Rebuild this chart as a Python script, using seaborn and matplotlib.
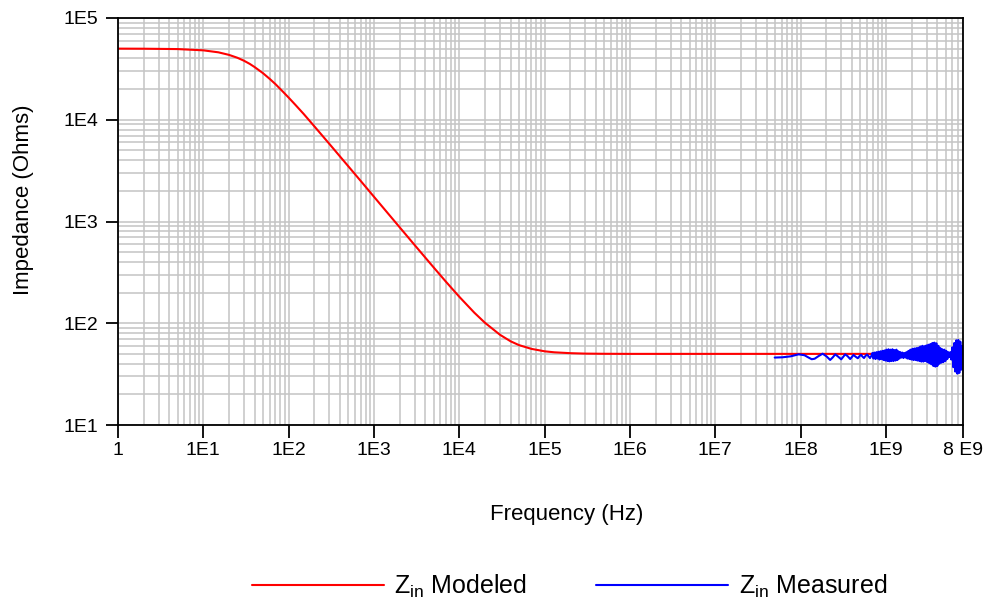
"""
Input impedance vs frequency: modeled curve against measured sweep.
"""

import matplotlib
matplotlib.use("Agg")
import matplotlib.pyplot as plt
from matplotlib.ticker import LogLocator, FixedLocator, FixedFormatter, NullFormatter
import seaborn as sns
import numpy as np
import pandas as pd

# modeled input impedance
model_freq = [1, 2, 5, 10, 15, 20, 25, 30, 35, 40, 50, 60, 70, 85, 100, 120, 150, 200,
              300, 500, 700, 1e3, 2e3, 3e3, 5e3, 7e3, 1e4, 1.5e4, 2e4, 3e4, 4e4, 5e4,
              7e4, 1e5, 1.3e5, 2e5, 3e5, 5e5, 1e6, 1e7, 1e8, 1e9, 8e9]
model_z = [50000, 49900, 49500, 48100, 46000, 43400, 40700, 38000, 35400, 32900,
           28700, 25200, 22400, 19000, 16500, 14000, 11400, 8620, 5790, 3490, 2500,
           1750, 877, 586, 354, 255, 182, 127, 101, 77, 66.4, 61, 56, 53, 51.8,
           50.8, 50.3, 50.1, 50, 50, 50, 50, 50]

# measured input impedance
meas_freq = [4.97e7, 6.15e7, 7.64e7, 9.48e7, 1.11e8, 1.24e8, 1.35e8, 1.46e8, 1.62e8, 1.81e8,
             2.01e8, 2.22e8, 2.37e8, 2.55e8, 2.75e8, 2.99e8, 3.14e8, 3.33e8, 3.55e8, 3.81e8,
             3.98e8, 4.17e8, 4.40e8, 4.68e8, 4.90e8, 5.10e8, 5.31e8, 5.53e8, 5.76e8, 6.00e8,
             6.24e8, 6.50e8, 6.77e8, 6.95e8, 7.14e8, 7.34e8, 7.54e8, 7.74e8, 7.96e8, 8.17e8,
             8.40e8, 8.63e8, 8.86e8, 9.10e8, 9.35e8, 9.60e8, 9.87e8, 1.013e9, 1.041e9, 1.070e9,
             1.099e9, 1.129e9, 1.160e9, 1.191e9, 1.224e9, 1.257e9, 1.292e9, 1.327e9, 1.363e9, 1.400e9,
             1.439e9, 1.478e9, 1.518e9, 1.560e9, 1.602e9, 1.646e9, 1.691e9, 1.737e9, 1.784e9, 1.833e9,
             1.883e9, 1.934e9, 1.987e9, 2.041e9, 2.097e9, 2.154e9, 2.213e9, 2.273e9, 2.335e9, 2.399e9,
             2.465e9, 2.532e9, 2.601e9, 2.672e9, 2.745e9, 2.820e9, 2.897e9, 2.976e9, 3.057e9, 3.141e9,
             3.227e9, 3.315e9, 3.405e9, 3.498e9, 3.594e9, 3.692e9, 3.793e9, 3.896e9, 4.003e9, 4.112e9,
             4.224e9, 4.340e9, 4.458e9, 4.580e9, 4.705e9, 4.833e9, 4.965e9, 5.101e9, 5.240e9, 5.383e9,
             5.530e9, 5.681e9, 5.836e9, 5.995e9, 6.159e9, 6.327e9, 6.500e9, 6.677e9, 6.860e9, 7.047e9,
             7.239e9, 7.437e9, 7.640e9, 7.850e9]
meas_z = [46.0, 46.3, 47.3, 49.5, 48.5, 46.0, 44.3, 44.8, 47.5, 50.2,
          47.3, 43.6, 46.0, 49.5, 47.0, 44.2, 46.5, 49.5, 47.5, 44.5,
          46.5, 48.8, 47.0, 45.3, 47.5, 49.0, 47.0, 45.5, 47.8, 49.3,
          47.5, 45.5, 48.0, 51.0, 45.0, 51.5, 44.5, 52.0, 45.0, 52.5,
          44.0, 53.0, 44.5, 53.5, 43.5, 54.0, 43.0, 55.0, 42.5, 55.5,
          42.2, 55.0, 42.5, 55.5, 42.5, 54.5, 43.0, 55.0, 43.5, 53.0,
          45.0, 52.0, 46.0, 51.5, 45.5, 51.0, 46.0, 52.0, 45.0, 53.5,
          44.5, 55.0, 44.0, 56.0, 43.5, 56.5, 43.5, 57.0, 43.0, 57.5,
          42.5, 59.0, 42.0, 60.0, 42.0, 59.5, 42.5, 60.5, 41.5, 61.5,
          40.5, 62.5, 39.5, 64.0, 38.0, 64.5, 37.5, 63.5, 38.0, 60.0,
          40.0, 57.0, 41.0, 55.5, 41.5, 55.0, 42.5, 53.5, 44.5, 52.0,
          46.5, 52.0, 44.0, 58.0, 37.0, 64.0, 33.5, 68.0, 32.0, 68.5,
          32.5, 66.0, 35.0, 60.0]

x_ticks = [1, 1e1, 1e2, 1e3, 1e4, 1e5, 1e6, 1e7, 1e8, 1e9, 8e9]
x_tick_labels = ["1", "1E1", "1E2", "1E3", "1E4", "1E5", "1E6", "1E7", "1E8", "1E9", "8 E9"]
y_ticks = [1e1, 1e2, 1e3, 1e4, 1e5]
y_tick_labels = ["1E1", "1E2", "1E3", "1E4", "1E5"]

sns.set_theme(style="white")
plt.rcParams["font.family"] = ["Liberation Sans", "DejaVu Sans"]
plt.rcParams["text.color"] = "black"

model_df = pd.DataFrame({"Frequency": model_freq, "Impedance": model_z})
meas_df = pd.DataFrame({"Frequency": meas_freq, "Impedance": meas_z})

fig = plt.figure(figsize=(9.9, 6.0), dpi=100)
ax = fig.add_axes([118 / 990, 175 / 600, 845 / 990, 407 / 600])
ax.set_xscale("log")
ax.set_yscale("log")

sns.lineplot(data=model_df, x="Frequency", y="Impedance", ax=ax, color="#ff0000",
             linewidth=1.5, estimator=None, sort=False, label=r"$\mathregular{Z_{in}}$ Modeled")
sns.lineplot(data=meas_df, x="Frequency", y="Impedance", ax=ax, color="#0000ff",
             linewidth=1.5, estimator=None, sort=False, label=r"$\mathregular{Z_{in}}$ Measured")

ax.set_xlim(1, 8e9)
ax.set_ylim(1e1, 1e5)

# ticks and grid
ax.xaxis.set_major_locator(FixedLocator(x_ticks))
ax.xaxis.set_major_formatter(FixedFormatter(x_tick_labels))
ax.yaxis.set_major_locator(FixedLocator(y_ticks))
ax.yaxis.set_major_formatter(FixedFormatter(y_tick_labels))
ax.xaxis.set_minor_locator(LogLocator(base=10, subs=np.arange(2, 10), numticks=100))
ax.yaxis.set_minor_locator(LogLocator(base=10, subs=np.arange(2, 10), numticks=100))
ax.xaxis.set_minor_formatter(NullFormatter())
ax.yaxis.set_minor_formatter(NullFormatter())
ax.grid(which="both", color="#c4c4c4", linewidth=1.1)
ax.set_axisbelow(True)
ax.tick_params(which="major", direction="out", length=9, width=1.3, color="black",
               labelsize=14, labelcolor="black", bottom=True, left=True)
ax.tick_params(axis="x", which="major", pad=3)
ax.tick_params(axis="y", which="major", pad=5)
ax.tick_params(which="minor", length=0)
for side in ["left", "right", "top", "bottom"]:
    ax.spines[side].set_color("black")
    ax.spines[side].set_linewidth(1.3)

ax.set_xlabel("Frequency (Hz)", fontsize=16, color="black")
ax.set_ylabel("Impedance (Ohms)", fontsize=16, color="black")
ax.xaxis.set_label_coords(0.531, -0.195)
ax.yaxis.set_label_coords(-0.099, 0.553)

# legend below the plot
ax.get_legend().remove()
handles, labels = ax.get_legend_handles_labels()
fig.legend(handles, labels, loc="center", bbox_to_anchor=(0.575, 0.022), ncol=2,
           frameon=False, fontsize=18, handlelength=5.28, handletextpad=0.42,
           columnspacing=2.76, labelcolor="black")

fig.savefig("out.png", dpi=100)
